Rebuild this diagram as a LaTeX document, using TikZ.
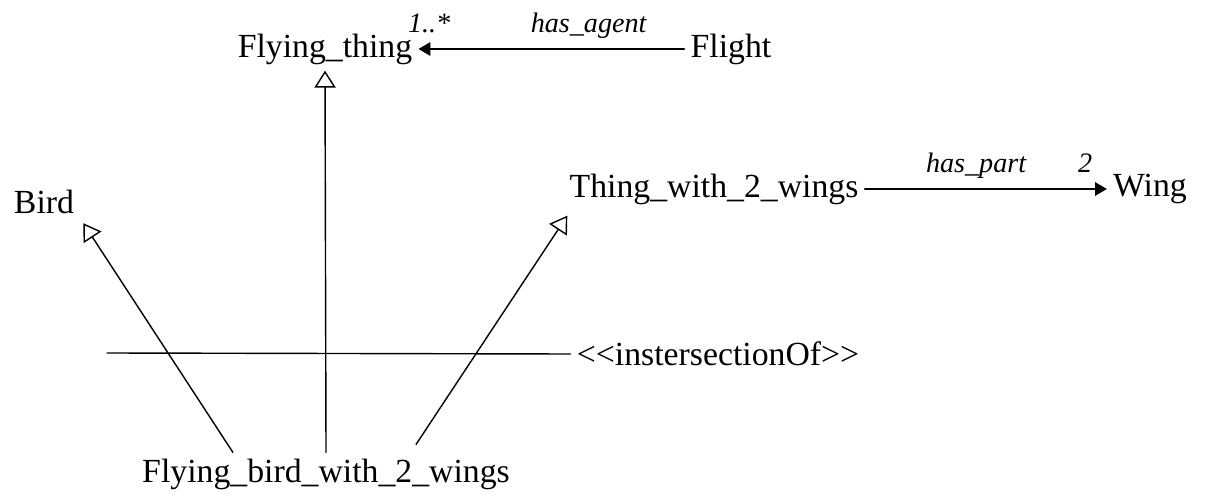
\documentclass[tikz,border=0pt]{standalone}
\usepackage{fontspec}
\setmainfont{Liberation Serif}
\usetikzlibrary{arrows.meta, calc}

\begin{document}
\begin{tikzpicture}[x=0.0125cm, y=-0.0125cm, line cap=round, line width=0.5pt,
    cls/.style={inner sep=2pt, font=\fontsize{12}{14}\selectfont},
    lbl/.style={inner sep=1pt, anchor=base, yshift=6pt, font=\fontsize{10}{12}\selectfont\itshape},
    isa/.style={-{Triangle[open, length=6pt, width=7.5pt]}},
    rel/.style={-{Triangle[length=4.2pt, width=4.8pt]}}]
    \useasboundingbox (0,0) rectangle (1218,497);

    % Classes
    \node[cls] (ft)   at (325,49)  {Flying\_thing};
    \node[cls] (fl)   at (731,49)  {Flight};
    \node[cls] (bird) at (44,202)  {Bird};
    \node[cls] (t2w)  at (714,189) {Thing\_with\_2\_wings};
    \node[cls] (wing) at (1150,189) {Wing};
    \node[cls] (isec) at (718,354) {\mbox{<}\mbox{<}instersectionOf\mbox{>}\mbox{>}};
    \node[cls] (fbw)  at (326,474) {Flying\_bird\_with\_2\_wings};

    % Properties
    \draw[rel] (fl) -- (ft)
        node[lbl, pos=0.36] {has\_agent}
        node[lbl, pos=0.96] {1..*};
    \draw[rel] (t2w) -- (wing)
        node[lbl, pos=0.46] {has\_part}
        node[lbl, pos=0.91] {2};

    % Subclasses
    \draw[isa] (fbw.north) -- (ft.south);
    \draw[isa] ($(fbw.north west)!0.255!(fbw.north east)$) -- ($(bird.south east)+(3,3)$);
    \draw[isa] ($(fbw.north west)!0.737!(fbw.north east)+(0,-8)$) -- ($(t2w.south west)+(4,5)$);

    % Intersection
    \coordinate (ibeg) at (107,353);
    \draw (ibeg) -- (isec.west);
\end{tikzpicture}
\end{document}
